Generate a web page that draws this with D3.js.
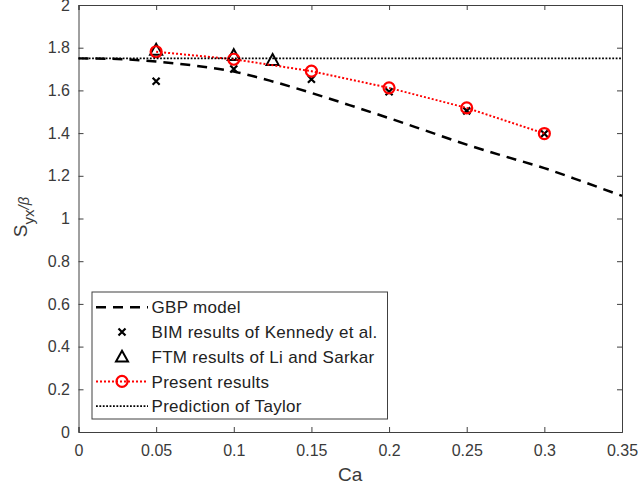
<!DOCTYPE html>
<html>
<head>
<meta charset="utf-8">
<script src="https://cdn.jsdelivr.net/npm/d3@7"></script>
<style>
  body { margin: 0; background: #fff; }
  svg { display: block; font-family: "Liberation Sans", Arial, sans-serif; }
</style>
</head>
<body>
<script>
// data
const gbpCa = [0, 0.025, 0.05, 0.075, 0.1, 0.125, 0.15, 0.175, 0.2, 0.225, 0.25, 0.275, 0.3, 0.325, 0.35];
const gbpS  = [1.750, 1.747, 1.735, 1.716, 1.688, 1.642, 1.588, 1.530, 1.470, 1.408, 1.346, 1.290, 1.236, 1.172, 1.106];

const bimCa = [0.05, 0.1, 0.15, 0.2, 0.25, 0.3];
const bimS  = [1.643, 1.700, 1.652, 1.594, 1.504, 1.397];

const ftmCa = [0.05, 0.1, 0.125];
const ftmS  = [1.790, 1.765, 1.742];

const presCa = [0.05, 0.1, 0.15, 0.2, 0.25, 0.3];
const presS  = [1.781, 1.746, 1.690, 1.612, 1.518, 1.398];

const taylorCa = [0, 0.35];
const taylorS  = [1.75, 1.75];

const xTicks = [0, 0.05, 0.1, 0.15, 0.2, 0.25, 0.3, 0.35];
const yTicks = [0, 0.2, 0.4, 0.6, 0.8, 1, 1.2, 1.4, 1.6, 1.8, 2];
const legendLabels = ["GBP model", "BIM results of Kennedy et al.", "FTM results of Li and Sarkar", "Present results", "Prediction of Taylor"];

const W = 638, H = 490;
const margin = { top: 5, right: 16, bottom: 58, left: 78.5 };
const axisCol = "#404040";
const textCol = "#3a3a3a";

const svg = d3.select("body").append("svg").attr("width", W).attr("height", H);

const x = d3.scaleLinear().domain([0, 0.35]).range([margin.left, W - margin.right]);
const y = d3.scaleLinear().domain([0, 2]).range([H - margin.bottom, margin.top]);

const zip = (a, b) => a.map((v, i) => [v, b[i]]);

// axes (box, ticks inside)
const fmt = d => (d === 0 ? "0" : String(+d.toFixed(2)));
const gx = svg.append("g").attr("transform", `translate(0,${y(0)})`)
  .call(d3.axisBottom(x).tickValues(xTicks).tickSize(-5).tickPadding(13).tickFormat(fmt));
const gy = svg.append("g").attr("transform", `translate(${x(0)},0)`)
  .call(d3.axisLeft(y).tickValues(yTicks).tickSize(-5).tickPadding(8.5).tickFormat(fmt));
const gxt = svg.append("g").attr("transform", `translate(0,${y(2)})`)
  .call(d3.axisTop(x).tickValues(xTicks).tickSize(-5).tickFormat(""));
const gyr = svg.append("g").attr("transform", `translate(${x(0.35)},0)`)
  .call(d3.axisRight(y).tickValues(yTicks).tickSize(-5).tickFormat(""));
[gx, gy, gxt, gyr].forEach(g => {
  g.select(".domain").attr("stroke", axisCol).attr("stroke-width", 1);
  g.selectAll(".tick line").attr("stroke", axisCol);
  g.selectAll(".tick text").attr("fill", textCol).style("font-size", "16px")
    .style("font-family", "'Liberation Sans', Arial, sans-serif");
});

// axis labels
svg.append("text").attr("x", x(0.175)).attr("y", 481).attr("text-anchor", "middle")
  .attr("fill", textCol).style("font-size", "19px").text("Ca");
const yl = svg.append("text").attr("transform", "translate(27,217) rotate(-90)")
  .attr("text-anchor", "middle").attr("fill", textCol).style("font-size", "19px");
yl.append("tspan").text("S");
yl.append("tspan").attr("dy", 7).style("font-size", "15px").text("yx");
yl.append("tspan").attr("dy", -5).style("font-size", "15px").style("font-style", "italic").text("/β");

const line = d3.line().x(d => x(d[0])).y(d => y(d[1]));

// GBP model
svg.append("path").datum(zip(gbpCa, gbpS)).attr("d", line.curve(d3.curveMonotoneX))
  .attr("fill", "none").attr("stroke", "#000").attr("stroke-width", 2.5).attr("stroke-dasharray", "10,7");
line.curve(d3.curveLinear);

// marker helpers
function cross(g, cx, cy) {
  const s = 3.5;
  g.append("path").attr("d", `M${cx - s},${cy - s}L${cx + s},${cy + s}M${cx - s},${cy + s}L${cx + s},${cy - s}`)
    .attr("stroke", "#000").attr("stroke-width", 2.2).attr("fill", "none");
}
function tri(g, cx, cy) {
  const s = 6;
  g.append("path").attr("d", `M${cx},${cy - s}L${cx + s},${cy + s * 0.8}L${cx - s},${cy + s * 0.8}Z`)
    .attr("stroke", "#000").attr("stroke-width", 2).attr("fill", "none");
}
function circ(g, cx, cy) {
  g.append("circle").attr("cx", cx).attr("cy", cy).attr("r", 5.5)
    .attr("stroke", "#ff0000").attr("stroke-width", 2.2).attr("fill", "none");
}

const marks = svg.append("g");
zip(bimCa, bimS).forEach(d => cross(marks, x(d[0]), y(d[1])));
zip(ftmCa, ftmS).forEach(d => tri(marks, x(d[0]), y(d[1])));

// present results
svg.append("path").datum(zip(presCa, presS)).attr("d", line)
  .attr("fill", "none").attr("stroke", "#ff0000").attr("stroke-width", 2).attr("stroke-dasharray", "2,2");
const pm = svg.append("g");
zip(presCa, presS).forEach(d => circ(pm, x(d[0]), y(d[1])));

// Taylor
svg.append("path").datum(zip(taylorCa, taylorS)).attr("d", line)
  .attr("fill", "none").attr("stroke", "#000").attr("stroke-width", 1.8).attr("stroke-dasharray", "1.8,1.6");

// legend
const lg = svg.append("g");
lg.append("rect").attr("x", 92).attr("y", 292).attr("width", 295.5).attr("height", 127)
  .attr("fill", "#fff").attr("stroke", axisCol).attr("stroke-width", 1);
const rowY = i => 307.3 + i * 24.7;
const x0 = 96, x1 = 148, xm = 122;
lg.append("line").attr("x1", x0).attr("x2", x1).attr("y1", rowY(0)).attr("y2", rowY(0))
  .attr("stroke", "#000").attr("stroke-width", 2.5).attr("stroke-dasharray", "10,7");
cross(lg, xm, rowY(1));
tri(lg, xm, rowY(2));
lg.append("line").attr("x1", x0).attr("x2", x1).attr("y1", rowY(3)).attr("y2", rowY(3))
  .attr("stroke", "#ff0000").attr("stroke-width", 2).attr("stroke-dasharray", "2,2");
circ(lg, xm, rowY(3));
lg.append("line").attr("x1", x0).attr("x2", x1).attr("y1", rowY(4)).attr("y2", rowY(4))
  .attr("stroke", "#000").attr("stroke-width", 1.8).attr("stroke-dasharray", "1.8,1.6");
legendLabels.forEach((t, i) => {
  lg.append("text").attr("x", 151.5).attr("y", rowY(i)).attr("dy", "0.36em")
    .attr("fill", "#222").style("font-size", "17px").style("letter-spacing", "0.3px").text(t);
});
</script>
</body>
</html>
